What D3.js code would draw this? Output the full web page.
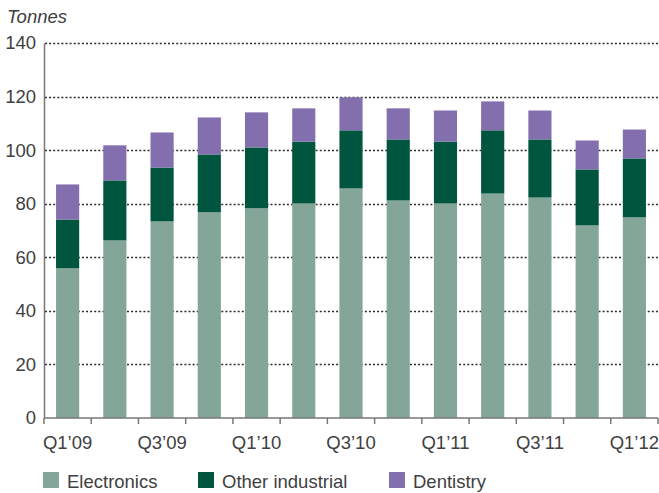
<!DOCTYPE html>
<html>
<head>
<meta charset="utf-8">
<script src="https://cdn.jsdelivr.net/npm/d3@7"></script>
<style>
  body { margin: 0; background: #fff; }
  text { font-family: "Liberation Sans", Arial, sans-serif; fill: #404040; }
</style>
</head>
<body>
<div id="chart"></div>
<script>
var quarters = ["Q1’09", "Q2’09", "Q3’09", "Q4’09", "Q1’10", "Q2’10", "Q3’10",
                "Q4’10", "Q1’11", "Q2’11", "Q3’11", "Q4’11", "Q1’12"];
var electronics = [55.9, 66.3, 73.4, 76.8, 78.3, 80.1, 85.7, 81.2, 80.1, 83.8, 82.3, 71.9, 74.9];
var otherIndustrial = [18.2, 22.4, 20.1, 21.6, 22.7, 23.1, 21.7, 22.8, 23.1, 23.6, 21.7, 20.9, 22.0];
var dentistry = [13.1, 13.1, 13.1, 13.8, 13.1, 12.4, 12.3, 11.6, 11.6, 10.8, 10.8, 10.8, 10.8];
var seriesNames = ["Electronics", "Other industrial", "Dentistry"];
var seriesColors = ["#84a699", "#00553f", "#836fae"];
var yTicks = [0, 20, 40, 60, 80, 100, 120, 140];

document.addEventListener("DOMContentLoaded", function() {
  var width = 659,
      height = 493,
      margin = {top: 43, right: 1, bottom: 75, left: 44},
      svg = d3.select('#chart').append('svg')
              .attr('width', width)
              .attr('height', height);

  var rows = quarters.map(function(q, i) {
    return {q: q, "Electronics": electronics[i],
            "Other industrial": otherIndustrial[i], "Dentistry": dentistry[i]};
  });
  var stacked = d3.stack().keys(seriesNames)(rows);

  var x = d3.scaleBand()
    .domain(quarters)
    .range([margin.left, width - margin.right])
    .paddingInner(0.51)
    .paddingOuter(0.255);

  var y = d3.scaleLinear()
    .domain([0, 140])
    .range([height - margin.bottom, margin.top]);

  // dotted gridlines
  svg.append('g').selectAll('line')
    .data(yTicks.filter(function(d) { return d > 0; }))
    .enter().append('line')
    .attr('x1', margin.left + 1)
    .attr('x2', width)
    .attr('y1', function(d) { return Math.round(y(d)) + 0.5; })
    .attr('y2', function(d) { return Math.round(y(d)) + 0.5; })
    .attr('stroke', '#2a2a2a')
    .attr('stroke-width', 1.6)
    .attr('stroke-dasharray', '2,2.1');

  // bars
  svg.append('g').selectAll('g')
    .data(stacked)
    .enter().append('g')
    .attr('fill', function(d, i) { return seriesColors[i]; })
    .selectAll('rect')
    .data(function(d) { return d; })
    .enter().append('rect')
    .attr('x', function(d) { return x(d.data.q); })
    .attr('width', x.bandwidth())
    .attr('y', function(d) { return y(d[1]); })
    .attr('height', function(d) { return y(d[0]) - y(d[1]); });

  // y axis
  var yAxis = svg.append('g')
    .attr('transform', 'translate(' + margin.left + ',0)')
    .call(d3.axisLeft(y).tickValues(yTicks).tickSize(0).tickPadding(8));
  yAxis.select('.domain').attr('stroke', '#777').attr('stroke-width', 1.5);
  yAxis.selectAll('text')
    .style('font-size', '18.5px').attr('fill', '#404040');

  // x axis with ticks on band edges
  var xAxis = svg.append('g')
    .attr('transform', 'translate(0,' + y(0) + ')');
  xAxis.append('line')
    .attr('x1', margin.left).attr('x2', width - margin.right)
    .attr('stroke', '#777').attr('stroke-width', 1.5);
  var step = x.step();
  xAxis.selectAll('line.tick')
    .data(d3.range(quarters.length + 1))
    .enter().append('line')
    .attr('class', 'tick')
    .attr('x1', function(i) { return margin.left + i * step; })
    .attr('x2', function(i) { return margin.left + i * step; })
    .attr('y1', 0).attr('y2', 6)
    .attr('stroke', '#777').attr('stroke-width', 1.5);
  xAxis.selectAll('text')
    .data(quarters.filter(function(d, i) { return i % 2 === 0; }))
    .enter().append('text')
    .attr('x', function(d) { return x(d) + x.bandwidth() / 2; })
    .attr('y', 31)
    .attr('text-anchor', 'middle')
    .style('font-size', '18.5px')
    .text(function(d) { return d; });

  // unit label
  svg.append('text')
    .attr('x', 7).attr('y', 23)
    .style('font-size', '18.5px')
    .style('font-style', 'italic')
    .text('Tonnes');

  // legend
  var legendX = [43, 198, 389];
  var legend = svg.append('g').selectAll('g')
    .data(seriesNames)
    .enter().append('g')
    .attr('transform', function(d, i) { return 'translate(' + legendX[i] + ',472)'; });
  legend.append('rect')
    .attr('width', 16).attr('height', 16)
    .attr('fill', function(d, i) { return seriesColors[i]; });
  legend.append('text')
    .attr('x', 24).attr('y', 15.5)
    .style('font-size', '18.5px')
    .text(function(d) { return d; });
});
</script>
</body>
</html>
